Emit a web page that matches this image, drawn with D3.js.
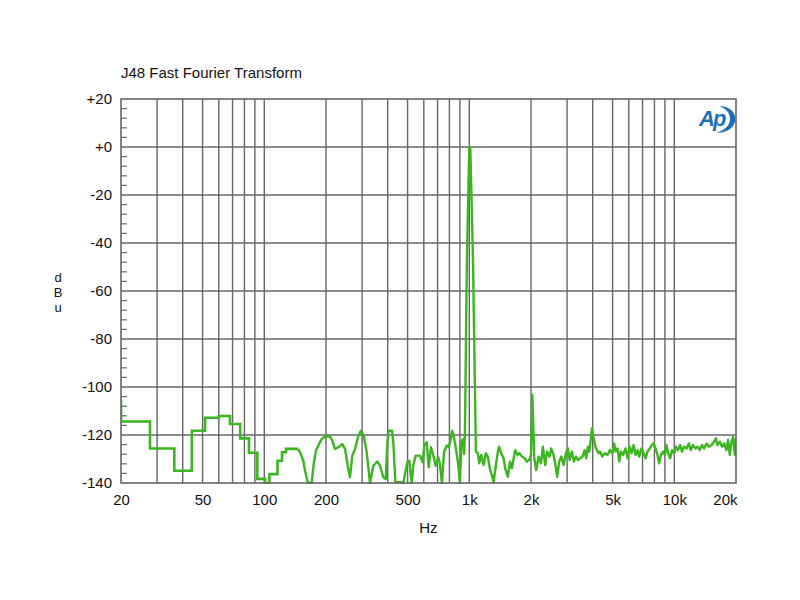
<!DOCTYPE html>
<html>
<head>
<meta charset="utf-8">
<script src="https://cdn.jsdelivr.net/npm/d3@7"></script>
<style>
  html, body { margin: 0; padding: 0; background: #ffffff; }
  svg { display: block; font-family: "Liberation Sans", Arial, sans-serif; }
</style>
</head>
<body>
<svg id="chart" width="800" height="600"></svg>
<script>
// ---------- data ----------
const title = "J48 Fast Fourier Transform";
const xTickValues = [20, 50, 100, 200, 500, 1000, 2000, 5000, 10000, 20000];
const xTickLabels = ["20", "50", "100", "200", "500", "1k", "2k", "5k", "10k", "20k"];
const yTickValues = [20, 0, -20, -40, -60, -80, -100, -120, -140];
const yTickLabels = ["+20", "+0", "-20", "-40", "-60", "-80", "-100", "-120", "-140"];
const yLabel = ["d", "B", "u"];
const xLabel = "Hz";

// low-frequency FFT bins (stepped): bin start frequency (Hz) and level (dBu)
const binEdges  = [20, 20, 27.7, 36.4, 44.3, 51.4, 60.1, 68, 76.3, 84.2, 92.5, 100.8, 106, 116, 122, 127.6, 146.5];
const binLevels = [-105.4, -114.4, -125.6, -134.9, -118.2, -112.8, -112.1, -115.4, -121.4, -127.4, -138.3, -140, -136.3, -130.7, -127.2, -125.8, -125.8];

// remaining spectrum (Hz, dBu)
const freqs = [146.5, 150.5, 155, 158, 162.8, 170.3, 174.2, 178.7, 184.9, 190.5, 197.8, 209.2, 214.6, 221.2, 229.6, 240.2, 247.6, 255.2, 261.8, 268.8,
  277, 287.6, 296.4, 305.4, 316, 327.8, 340.2, 355.8, 366.8, 380.6, 391, 399, 404.5, 419.6, 426, 435.6, 459.2, 476.4, 498.3, 509.6,
  523.5, 533, 547.5, 574.5, 592.5, 603.3, 619.8, 634, 650.4, 667.8, 685.8, 705.5, 719, 735.7, 752.5, 775.6, 796, 811, 825.6, 841.6,
  860.8, 883.2, 900, 917.1, 934.2, 944, 953, 973, 1000, 1012, 1043, 1077, 1101, 1118, 1143, 1174, 1205, 1232, 1264, 1289,
  1314, 1348, 1379, 1399, 1431, 1470, 1497, 1543, 1578, 1614, 1645, 1675, 1720, 1760, 1806, 1861, 1910, 1960, 2000, 2030,
  2075, 2120, 2178, 2236, 2286, 2346, 2392, 2464, 2508, 2578, 2624, 2684, 2746, 2808, 2884, 2960, 3027, 3086, 3166, 3237,
  3312, 3387, 3477, 3570, 3651, 3717, 3789, 3846, 3920, 3965, 4040, 4146, 4274, 4336, 4452, 4588, 4728, 4850, 4990, 5090,
  5170, 5290, 5385, 5490, 5630, 5785, 5920, 6054, 6190, 6332, 6474, 6624, 6744, 6920, 7080, 7240, 7406, 7596, 7742, 7920,
  8100, 8283, 8434, 8600, 8792, 8990, 9162, 9330, 9540, 9756, 9980, 10205, 10436, 10673, 10914, 11163, 11470, 11770, 12035, 12350,
  12690, 12980, 13315, 13660, 13975, 14360, 14735, 15190, 15636, 15940, 16240, 16670, 17110, 17500, 17970, 18300, 18650, 19010, 19360, 19730,
  20000];
const levels = [-125.8, -127.9, -130.7, -134.9, -139.7, -140, -132, -126.5, -123.8, -121.7, -120.6, -120.6, -122.4, -125.8, -125.1, -123.8, -125.8, -132.8, -137.6, -128.6,
  -125.8, -120.3, -118.2, -120.3, -127.2, -140, -132.8, -131.1, -132.8, -137.6, -138.3, -122.4, -118.2, -118.2, -123, -139.7, -139.7, -140, -131.4, -130.7,
  -140, -132.8, -128.6, -128.6, -131.4, -124.2, -123, -133.5, -125.1, -128.6, -132.8, -129.3, -132.1, -140, -127.2, -124.4, -125.1, -121.7, -118.2, -121,
  -125.8, -132.1, -140, -122.4, -121.7, -127.9, -118, -48, 0, -1, -48, -126.9, -127.6, -131.8, -128.3, -132.5, -127.6, -129, -134.6, -136.7,
  -139.7, -132.5, -126.9, -124.9, -127.6, -129.7, -133.9, -137.4, -131.1, -133.9, -129.7, -126.3, -128.3, -127.6, -129, -129.7, -131.1, -130.4, -128.3, -103.3,
  -129.7, -134.6, -129, -131.8, -124.9, -132.5, -126.9, -129, -125.6, -128.3, -131.8, -137.4, -131.1, -129, -132.5, -127.6, -125.6, -130.4, -126.9, -131.1,
  -129, -130.4, -129.7, -129, -126.3, -129.7, -124.9, -126.9, -121.4, -117.2, -121.4, -125.6, -127.6, -126.9, -129, -127.6, -128.3, -126.3, -127.6, -123.5,
  -126.9, -125.6, -131.1, -126.9, -128.3, -125.6, -129.7, -124.9, -127.6, -124.2, -128.3, -126.3, -129, -125.6, -127.6, -129.7, -126.9, -125.6, -124.2, -123.5,
  -125.6, -128.3, -131.8, -128.3, -126.9, -128.3, -124.2, -127.6, -129.7, -126.3, -127.6, -124.9, -126.3, -124.2, -126.9, -124.9, -125.6, -123.5, -126.3, -124.2,
  -125.6, -124.9, -126.3, -124.2, -125.6, -123.5, -124.9, -124.2, -122.8, -121.4, -124.2, -122.8, -124.9, -123.5, -126.3, -122.1, -128.3, -122.8, -120.7, -128.3,
  -121.4];

// ---------- layout ----------
const svg = d3.select("#chart");
const L = 121, R = 736, T = 99, B = 483;
const gridColor = "#666666";
const traceColor = "#3cb521";
const font = "Liberation Sans, Arial, sans-serif";

const x = d3.scaleLog().domain([20, 20000]).range([L, R]);
const y = d3.scaleLinear().domain([-140, 20]).range([B, T]);

svg.append("rect").attr("x", 0).attr("y", 0).attr("width", 800).attr("height", 600).attr("fill", "#ffffff");

// title
svg.append("text").attr("x", L).attr("y", 78)
  .attr("font-size", 15).attr("fill", "#111").text(title);

// vertical grid lines (1-9 per decade)
const xGrid = [];
[10, 100, 1000, 10000].forEach(dec => {
  for (let m = 1; m <= 9; m++) {
    const v = dec * m;
    if (v > 20 && v < 20000) xGrid.push(v);
  }
});
svg.append("g").selectAll("line").data(xGrid).join("line")
  .attr("x1", d => x(d)).attr("x2", d => x(d))
  .attr("y1", T).attr("y2", B)
  .attr("stroke", gridColor).attr("stroke-width", 1.4);

// horizontal grid lines
svg.append("g").selectAll("line").data(yTickValues.filter(v => v > -140 && v < 20)).join("line")
  .attr("x1", L).attr("x2", R)
  .attr("y1", d => y(d)).attr("y2", d => y(d))
  .attr("stroke", gridColor).attr("stroke-width", 1.4);

// minor ticks on left axis every 4 dB
const minor = d3.range(-136, 20, 4).filter(v => v % 20 !== 0);
svg.append("g").selectAll("line").data(minor).join("line")
  .attr("x1", L).attr("x2", L + 6)
  .attr("y1", d => y(d)).attr("y2", d => y(d))
  .attr("stroke", gridColor).attr("stroke-width", 1.2);

// trace
const clip = svg.append("clipPath").attr("id", "plotclip");
clip.append("rect").attr("x", L).attr("y", T - 2).attr("width", R - L).attr("height", B - T + 3);

const stepData = binEdges.map((f, i) => [f, binLevels[i]]);
const lineData = freqs.map((f, i) => [f, levels[i]]);

const stepLine = d3.line().x(d => x(d[0])).y(d => y(d[1])).curve(d3.curveStepAfter);
const linLine = d3.line().x(d => x(d[0])).y(d => y(d[1]));

const traceG = svg.append("g").attr("clip-path", "url(#plotclip)");
traceG.append("path").attr("d", stepLine(stepData))
  .attr("fill", "none").attr("stroke", traceColor).attr("stroke-width", 2.6)
  .attr("stroke-linejoin", "miter");
traceG.append("path").attr("d", linLine(lineData))
  .attr("fill", "none").attr("stroke", traceColor).attr("stroke-width", 2.4)
  .attr("stroke-linejoin", "round");

// frame
svg.append("rect").attr("x", L).attr("y", T).attr("width", R - L).attr("height", B - T)
  .attr("fill", "none").attr("stroke", gridColor).attr("stroke-width", 1.6);

// y axis labels
const yAxis = d3.axisLeft(y).tickValues(yTickValues).tickSize(0).tickPadding(9)
  .tickFormat((d, i) => yTickLabels[i]);
const gy = svg.append("g").attr("transform", `translate(${L},0)`).call(yAxis);
gy.select(".domain").remove();
gy.selectAll("text").attr("font-size", 15).attr("fill", "#111").attr("font-family", font);

// x axis labels
const xAxis = d3.axisBottom(x).tickValues(xTickValues).tickSize(0).tickPadding(11)
  .tickFormat((d, i) => xTickLabels[i]);
const gx = svg.append("g").attr("transform", `translate(0,${B})`).call(xAxis);
gx.select(".domain").remove();
gx.selectAll("text").attr("font-size", 15).attr("fill", "#111").attr("font-family", font);
gx.selectAll(".tick").filter(d => d === 20000).select("text").attr("text-anchor", "end").attr("x", 1);

// axis titles
svg.append("text").attr("x", x(632)).attr("y", 533).attr("text-anchor", "middle")
  .attr("font-size", 15).attr("fill", "#111").text(xLabel);
svg.append("g").selectAll("text").data(yLabel).join("text")
  .attr("x", 58).attr("y", (d, i) => 282 + i * 15).attr("text-anchor", "middle")
  .attr("font-size", 13).attr("fill", "#111").text(d => d);

// AP logo
const logo = svg.append("g").attr("transform", "translate(697,104)");
logo.append("text").attr("x", 2).attr("y", 22)
  .attr("font-size", 22).attr("font-weight", "bold").attr("font-style", "italic")
  .attr("fill", "#1f6fb4").attr("font-family", font)
  .attr("letter-spacing", -2).text("Ap");
logo.append("path")
  .attr("d", "M22,2 C34,2 40,10 38,18 C36,25 28,29 20,29 C27,26 33,22 33,15 C33,8 28,4 22,2 Z")
  .attr("fill", "#1f6fb4");
</script>
</body>
</html>
